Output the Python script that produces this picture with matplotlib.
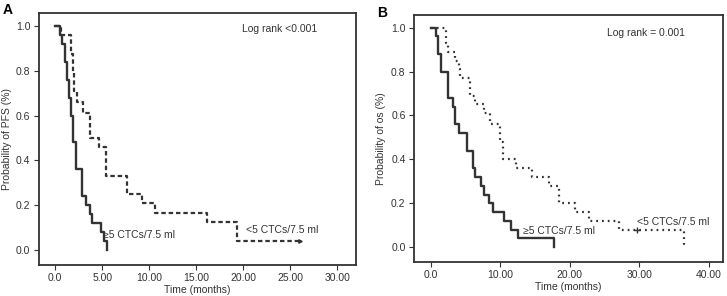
import matplotlib.pyplot as plt

# Panel A - progression free survival
pfs_hi_t = [0, 0.55, 0.75, 1.0, 1.2, 1.45, 1.65, 1.85, 2.2, 2.8, 3.25, 3.7, 3.95, 4.9, 5.2, 5.5]
pfs_hi_s = [1.0, 0.96, 0.92, 0.84, 0.76, 0.68, 0.60, 0.48, 0.36, 0.24, 0.20, 0.16, 0.12, 0.08, 0.04, 0.0]
pfs_lo_t = [0, 0.6, 1.65, 1.85, 2.0, 2.3, 3.0, 3.7, 4.7, 5.45, 7.6, 9.2, 10.6, 16.1, 19.3, 26.0]
pfs_lo_s = [1.0, 0.96, 0.875, 0.79, 0.71, 0.66, 0.61, 0.50, 0.46, 0.33, 0.25, 0.21, 0.167, 0.125, 0.042, 0.042]

# Panel B - overall survival
os_hi_t = [0, 0.8, 1.1, 1.5, 2.45, 3.25, 3.5, 4.1, 5.15, 6.1, 6.35, 7.2, 7.6, 8.35, 8.9, 10.6, 11.5, 12.5, 17.7]
os_hi_s = [1.0, 0.96, 0.88, 0.80, 0.68, 0.64, 0.56, 0.52, 0.44, 0.36, 0.32, 0.28, 0.24, 0.20, 0.16, 0.12, 0.08, 0.04, 0.0]
os_lo_t = [0, 2.2, 2.5, 3.5, 4.1, 4.25, 5.65, 6.4, 7.6, 8.5, 9.9, 10.45, 12.3, 14.6, 17.0, 18.5, 20.8, 22.7, 27.1, 36.4]
os_lo_s = [1.0, 0.93, 0.89, 0.85, 0.81, 0.77, 0.69, 0.65, 0.61, 0.56, 0.48, 0.40, 0.36, 0.32, 0.28, 0.20, 0.16, 0.12, 0.08, 0.0]
os_cens_t = [29.6]
os_cens_s = [0.08]

col = '#333333'
plt.rcParams['font.family'] = 'Liberation Sans'
plt.rcParams['font.size'] = 7

fig = plt.figure(figsize=(7.27, 2.96), dpi=100)
axA = fig.add_axes([0.0536, 0.1047, 0.436, 0.851])
axB = fig.add_axes([0.5695, 0.115, 0.425, 0.834])

def style(ax, xmax, step, xlim, ylabel, lab_x):
    ax.set_xlim(*xlim)
    ax.set_ylim(-0.067, 1.057)
    ax.set_xticks(range(0, xmax + 1, step))
    ax.set_xticklabels(["0.0"] + ["%.2f" % v for v in range(step, xmax + 1, step)])
    ax.set_yticks([0, 0.2, 0.4, 0.6, 0.8, 1.0])
    ax.set_yticklabels(["0.0", "0.2", "0.4", "0.6", "0.8", "1.0"])
    ax.tick_params(colors=col, length=3.6, width=0.8, labelsize=7.5, pad=2.5)
    for s in ax.spines.values():
        s.set_color(col)
        s.set_linewidth(1.3)
    ax.set_xlabel("Time (months)", color=col, fontsize=7.5, labelpad=1)
    ax.set_ylabel(ylabel, color=col, fontsize=7.5)
    ax.yaxis.set_label_coords(lab_x, 0.5)

axA.step(pfs_hi_t, pfs_hi_s, where='post', color=col, lw=1.7)
axA.step(pfs_lo_t, pfs_lo_s, where='post', color=col, lw=1.6, linestyle=(0, (2.0, 1.3)))
axA.plot([pfs_lo_t[-1]], [pfs_lo_s[-1]], marker='>', ms=2.5, color=col)
style(axA, 30, 5, (-1.73, 32.0), "Probability of PFS (%)", -0.085)
axA.text(19.9, 0.985, "Log rank <0.001", color=col, fontsize=7.5, va='center')
axA.text(5.1, 0.067, "\u22655 CTCs/7.5 ml", color=col, fontsize=7.5, va='center')
axA.text(20.3, 0.09, "<5 CTCs/7.5 ml", color=col, fontsize=7.5, va='center')

axB.step(os_hi_t, os_hi_s, where='post', color=col, lw=1.7)
axB.step(os_lo_t, os_lo_s, where='post', color=col, lw=1.6, linestyle=(0, (0.8, 1.8)))
axB.plot(os_cens_t, os_cens_s, '+', ms=4, mew=1, color=col)
style(axB, 40, 10, (-2.4, 42.0), "Probability of os (%)", -0.091)
axB.text(25.3, 0.975, "Log rank = 0.001", color=col, fontsize=7.5, va='center')
axB.text(13.2, 0.075, "\u22655 CTCs/7.5 ml", color=col, fontsize=7.5, va='center')
axB.text(29.7, 0.117, "<5 CTCs/7.5 ml", color=col, fontsize=7.5, va='center')

fig.text(0.004, 0.965, "A", fontsize=10, fontweight='bold', va='center')
fig.text(0.519, 0.955, "B", fontsize=10, fontweight='bold', va='center')

fig.savefig("out.png", dpi=100)
